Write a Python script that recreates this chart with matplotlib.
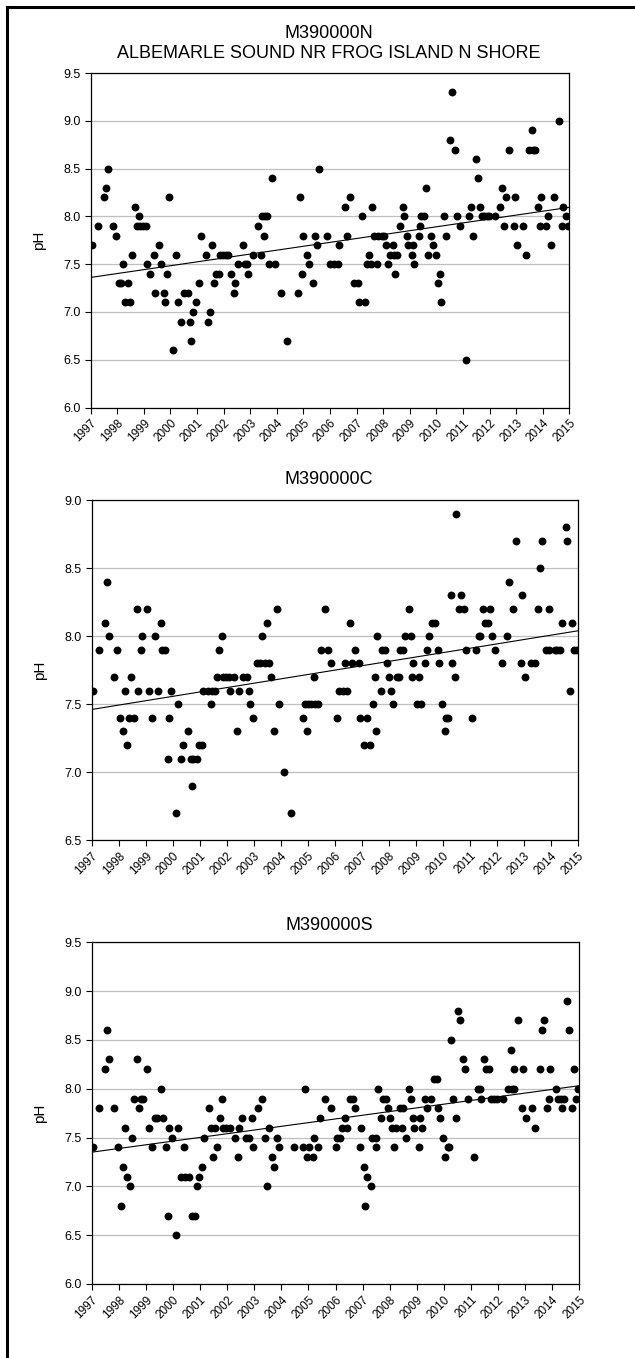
import numpy as np
import matplotlib
matplotlib.use("Agg")
import matplotlib.pyplot as plt
from matplotlib.lines import Line2D

plt.rcParams['font.family'] = ['Liberation Sans', 'DejaVu Sans']

# ---- M390000N (decimal year, pH) ----
n_year = [1997.04, 1997.29, 1997.49, 1997.58, 1997.64, 1997.83, 1997.96, 1998.08, 1998.15, 1998.23,
          1998.30, 1998.39, 1998.48, 1998.56, 1998.66, 1998.73, 1998.81, 1998.84, 1998.95, 1999.07,
          1999.12, 1999.24, 1999.37, 1999.40, 1999.57, 1999.64, 1999.74, 1999.80, 1999.88, 1999.94,
          2000.10, 2000.20, 2000.30, 2000.39, 2000.52, 2000.67, 2000.72, 2000.78, 2000.85, 2000.97,
          2001.07, 2001.14, 2001.32, 2001.41, 2001.48, 2001.57, 2001.63, 2001.71, 2001.81, 2001.86,
          2001.98, 2002.08, 2002.17, 2002.27, 2002.38, 2002.44, 2002.54, 2002.71, 2002.79, 2002.89,
          2002.93, 2003.11, 2003.30, 2003.40, 2003.45, 2003.52, 2003.55, 2003.63, 2003.71, 2003.83,
          2003.93, 2004.15, 2004.37, 2004.81, 2004.88, 2004.95, 2005.00, 2005.14, 2005.21, 2005.36,
          2005.45, 2005.52, 2005.57, 2005.87, 2006.00, 2006.13, 2006.31, 2006.35, 2006.56, 2006.63,
          2006.74, 2006.91, 2007.04, 2007.09, 2007.19, 2007.32, 2007.38, 2007.47, 2007.53, 2007.57,
          2007.67, 2007.75, 2007.82, 2007.94, 2008.04, 2008.09, 2008.17, 2008.26, 2008.37, 2008.41,
          2008.44, 2008.52, 2008.63, 2008.76, 2008.79, 2008.91, 2008.92, 2009.07, 2009.12, 2009.17,
          2009.33, 2009.38, 2009.42, 2009.52, 2009.62, 2009.70, 2009.80, 2009.86, 2009.98, 2010.05,
          2010.15, 2010.17, 2010.29, 2010.35, 2010.51, 2010.59, 2010.70, 2010.76, 2010.87, 2011.10,
          2011.23, 2011.30, 2011.38, 2011.49, 2011.56, 2011.63, 2011.70, 2011.80, 2011.89, 2011.98,
          2012.20, 2012.39, 2012.48, 2012.54, 2012.60, 2012.73, 2012.90, 2012.94, 2013.02, 2013.27,
          2013.37, 2013.49, 2013.61, 2013.64, 2013.72, 2013.81, 2013.89, 2013.93, 2014.12, 2014.21,
          2014.32, 2014.41, 2014.62, 2014.71, 2014.77, 2014.87, 2014.96]
n_ph = [7.7, 7.9, 8.2, 8.3, 8.5, 7.9, 7.8, 7.3, 7.3, 7.5,
        7.1, 7.3, 7.1, 7.6, 8.1, 7.9, 8.0, 7.9, 7.9, 7.9,
        7.5, 7.4, 7.6, 7.2, 7.7, 7.5, 7.2, 7.1, 7.4, 8.2,
        6.6, 7.6, 7.1, 6.9, 7.2, 7.2, 6.9, 6.7, 7.0, 7.1,
        7.3, 7.8, 7.6, 6.9, 7.0, 7.7, 7.3, 7.4, 7.4, 7.6,
        7.6, 7.6, 7.6, 7.4, 7.2, 7.3, 7.5, 7.7, 7.5, 7.5,
        7.4, 7.6, 7.9, 7.6, 8.0, 7.8, 8.0, 8.0, 7.5, 8.4,
        7.5, 7.2, 6.7, 7.2, 8.2, 7.4, 7.8, 7.6, 7.5, 7.3,
        7.8, 7.7, 8.5, 7.8, 7.5, 7.5, 7.5, 7.7, 8.1, 7.8,
        8.2, 7.3, 7.3, 7.1, 8.0, 7.1, 7.5, 7.6, 7.5, 8.1,
        7.8, 7.5, 7.8, 7.8, 7.8, 7.7, 7.5, 7.6, 7.7, 7.6,
        7.4, 7.6, 7.9, 8.1, 8.0, 7.8, 7.7, 7.6, 7.7, 7.5,
        7.8, 7.9, 8.0, 8.0, 8.3, 7.6, 7.8, 7.7, 7.6, 7.3,
        7.4, 7.1, 8.0, 7.8, 8.8, 9.3, 8.7, 8.0, 7.9, 6.5,
        8.0, 8.1, 7.8, 8.6, 8.4, 8.1, 8.0, 8.0, 8.0, 8.0,
        8.0, 8.1, 8.3, 7.9, 8.2, 8.7, 7.9, 8.2, 7.7, 7.9,
        7.6, 8.7, 8.9, 8.7, 8.7, 8.1, 7.9, 8.2, 7.9, 8.0,
        7.7, 8.2, 9.0, 7.9, 8.1, 8.0, 7.9]

# ---- M390000C ----
c_year = [1997.04, 1997.28, 1997.49, 1997.56, 1997.64, 1997.82, 1997.95, 1998.06, 1998.15, 1998.22,
          1998.31, 1998.40, 1998.47, 1998.57, 1998.66, 1998.73, 1998.82, 1998.88, 1999.04, 1999.11,
          1999.24, 1999.36, 1999.44, 1999.57, 1999.61, 1999.73, 1999.82, 1999.88, 1999.95, 2000.13,
          2000.20, 2000.31, 2000.40, 2000.55, 2000.66, 2000.73, 2000.77, 2000.89, 2000.98, 2001.08,
          2001.14, 2001.29, 2001.40, 2001.46, 2001.57, 2001.64, 2001.73, 2001.81, 2001.86, 2001.97,
          2002.09, 2002.14, 2002.27, 2002.39, 2002.44, 2002.60, 2002.74, 2002.81, 2002.88, 2002.97,
          2003.12, 2003.24, 2003.32, 2003.43, 2003.48, 2003.56, 2003.64, 2003.74, 2003.85, 2003.95,
          2004.14, 2004.38, 2004.82, 2004.89, 2004.96, 2005.00, 2005.11, 2005.22, 2005.27, 2005.37,
          2005.49, 2005.65, 2005.75, 2005.88, 2006.09, 2006.15, 2006.30, 2006.37, 2006.46, 2006.57,
          2006.64, 2006.74, 2006.89, 2006.95, 2007.07, 2007.20, 2007.32, 2007.41, 2007.48, 2007.53,
          2007.58, 2007.70, 2007.75, 2007.85, 2007.94, 2008.02, 2008.10, 2008.17, 2008.32, 2008.39,
          2008.43, 2008.52, 2008.61, 2008.75, 2008.81, 2008.90, 2008.88, 2009.06, 2009.13, 2009.18,
          2009.33, 2009.42, 2009.51, 2009.60, 2009.72, 2009.81, 2009.87, 2009.97, 2010.07, 2010.12,
          2010.19, 2010.29, 2010.34, 2010.44, 2010.51, 2010.59, 2010.69, 2010.77, 2010.87, 2011.10,
          2011.24, 2011.33, 2011.39, 2011.49, 2011.57, 2011.66, 2011.75, 2011.84, 2011.93, 2012.20,
          2012.39, 2012.46, 2012.60, 2012.73, 2012.91, 2012.93, 2013.03, 2013.26, 2013.41, 2013.53,
          2013.62, 2013.69, 2013.82, 2013.92, 2013.93, 2014.14, 2014.24, 2014.34, 2014.41, 2014.56,
          2014.62, 2014.73, 2014.79, 2014.87, 2014.98]
c_ph = [7.6, 7.9, 8.1, 8.4, 8.0, 7.7, 7.9, 7.4, 7.3, 7.6,
        7.2, 7.4, 7.7, 7.4, 8.2, 7.6, 7.9, 8.0, 8.2, 7.6,
        7.4, 8.0, 7.6, 8.1, 7.9, 7.9, 7.1, 7.4, 7.6, 6.7,
        7.5, 7.1, 7.2, 7.3, 7.1, 6.9, 7.1, 7.1, 7.2, 7.2,
        7.6, 7.6, 7.5, 7.6, 7.6, 7.7, 7.9, 8.0, 7.7, 7.7,
        7.7, 7.6, 7.7, 7.3, 7.6, 7.7, 7.7, 7.6, 7.5, 7.4,
        7.8, 7.8, 8.0, 7.8, 8.1, 7.8, 7.7, 7.3, 8.2, 7.5,
        7.0, 6.7, 7.4, 7.5, 7.3, 7.5, 7.5, 7.7, 7.5, 7.5,
        7.9, 8.2, 7.9, 7.8, 7.4, 7.6, 7.6, 7.8, 7.6, 8.1,
        7.8, 7.9, 7.8, 7.4, 7.2, 7.4, 7.2, 7.5, 7.7, 7.3,
        8.0, 7.6, 7.9, 7.9, 7.8, 7.7, 7.6, 7.5, 7.7, 7.7,
        7.9, 7.9, 8.0, 8.2, 8.0, 7.8, 7.7, 7.5, 7.7, 7.5,
        7.8, 7.9, 8.0, 8.1, 8.1, 7.9, 7.8, 7.5, 7.3, 7.4,
        7.4, 8.3, 7.8, 7.7, 8.9, 8.2, 8.3, 8.2, 7.9, 7.4,
        7.9, 8.0, 8.0, 8.2, 8.1, 8.1, 8.2, 8.0, 7.9, 7.8,
        8.0, 8.4, 8.2, 8.7, 7.8, 8.3, 7.7, 7.8, 7.8, 8.2,
        8.5, 8.7, 7.9, 8.2, 7.9, 7.9, 7.9, 7.9, 8.1, 8.8,
        8.7, 7.6, 8.1, 7.9, 7.9]

# ---- M390000S ----
s_year = [1997.04, 1997.28, 1997.49, 1997.57, 1997.65, 1997.82, 1997.96, 1998.08, 1998.16, 1998.23,
          1998.32, 1998.40, 1998.48, 1998.55, 1998.66, 1998.74, 1998.82, 1998.91, 1999.04, 1999.13,
          1999.24, 1999.35, 1999.42, 1999.57, 1999.65, 1999.73, 1999.82, 1999.87, 1999.95, 2000.13,
          2000.20, 2000.30, 2000.40, 2000.46, 2000.61, 2000.70, 2000.80, 2000.88, 2000.96, 2001.06,
          2001.15, 2001.33, 2001.39, 2001.49, 2001.57, 2001.64, 2001.73, 2001.81, 2001.85, 2001.97,
          2002.11, 2002.29, 2002.39, 2002.45, 2002.56, 2002.69, 2002.82, 2002.90, 2002.97, 2003.13,
          2003.30, 2003.39, 2003.47, 2003.54, 2003.65, 2003.73, 2003.83, 2003.93, 2004.47, 2004.80,
          2004.88, 2004.94, 2005.04, 2005.16, 2005.21, 2005.36, 2005.43, 2005.63, 2005.85, 2006.00,
          2006.05, 2006.17, 2006.25, 2006.34, 2006.43, 2006.53, 2006.65, 2006.73, 2006.90, 2006.95,
          2007.06, 2007.10, 2007.17, 2007.31, 2007.35, 2007.48, 2007.51, 2007.58, 2007.67, 2007.74,
          2007.85, 2007.92, 2008.01, 2008.07, 2008.16, 2008.25, 2008.38, 2008.44, 2008.50, 2008.62,
          2008.73, 2008.78, 2008.87, 2008.89, 2009.07, 2009.13, 2009.18, 2009.30, 2009.39, 2009.52,
          2009.63, 2009.73, 2009.79, 2009.87, 2009.95, 2010.05, 2010.14, 2010.19, 2010.27, 2010.33,
          2010.43, 2010.51, 2010.58, 2010.69, 2010.77, 2010.88, 2011.10, 2011.25, 2011.33, 2011.36,
          2011.48, 2011.55, 2011.67, 2011.73, 2011.85, 2011.95, 2012.19, 2012.35, 2012.47, 2012.50,
          2012.59, 2012.60, 2012.72, 2012.91, 2012.90, 2013.02, 2013.27, 2013.36, 2013.54, 2013.61,
          2013.68, 2013.82, 2013.88, 2013.92, 2014.13, 2014.21, 2014.31, 2014.36, 2014.45, 2014.55,
          2014.61, 2014.72, 2014.79, 2014.89, 2014.97]
s_ph = [7.4, 7.8, 8.2, 8.6, 8.3, 7.8, 7.4, 6.8, 7.2, 7.6,
        7.1, 7.0, 7.5, 7.9, 8.3, 7.8, 7.9, 7.9, 8.2, 7.6,
        7.4, 7.7, 7.7, 8.0, 7.7, 7.4, 6.7, 7.6, 7.5, 6.5,
        7.6, 7.1, 7.4, 7.1, 7.1, 6.7, 6.7, 7.0, 7.1, 7.2,
        7.5, 7.8, 7.6, 7.3, 7.6, 7.4, 7.7, 7.9, 7.6, 7.6,
        7.6, 7.5, 7.3, 7.6, 7.7, 7.5, 7.5, 7.7, 7.4, 7.8,
        7.9, 7.5, 7.0, 7.6, 7.3, 7.2, 7.5, 7.4, 7.4, 7.4,
        8.0, 7.3, 7.4, 7.3, 7.5, 7.4, 7.7, 7.9, 7.8, 7.4,
        7.5, 7.5, 7.6, 7.7, 7.6, 7.9, 7.9, 7.8, 7.4, 7.6,
        7.2, 6.8, 7.1, 7.0, 7.5, 7.5, 7.4, 8.0, 7.7, 7.9,
        7.9, 7.8, 7.7, 7.6, 7.4, 7.6, 7.8, 7.6, 7.8, 7.5,
        8.0, 7.9, 7.7, 7.6, 7.4, 7.7, 7.6, 7.9, 7.8, 7.9,
        8.1, 8.1, 7.8, 7.7, 7.5, 7.3, 7.4, 7.4, 8.5, 7.9,
        7.7, 8.8, 8.7, 8.3, 8.2, 7.9, 7.3, 8.0, 8.0, 7.9,
        8.3, 8.2, 8.2, 7.9, 7.9, 7.9, 7.9, 8.0, 8.4, 8.0,
        8.0, 8.2, 8.7, 8.2, 7.8, 7.7, 7.8, 7.6, 8.2, 8.6,
        8.7, 7.8, 7.9, 8.2, 8.0, 7.9, 7.9, 7.8, 7.9, 8.9,
        8.6, 7.8, 8.2, 7.9, 8.0]

years = list(range(1997, 2016))

# title, x, y, ylim, axes rect, title line centres (px from top)
panels = [
    (["M390000N", "ALBEMARLE SOUND NR FROG ISLAND N SHORE"], n_year, n_ph, (6.0, 9.5),
     [0.1428, 0.6999, 0.7540, 0.2463], [34, 53]),
    (["M390000C"], c_year, c_ph, (6.5, 9.0),
     [0.1444, 0.3814, 0.7654, 0.2502], [479]),
    (["M390000S"], s_year, s_ph, (6.0, 9.5),
     [0.1444, 0.0545, 0.7679, 0.2516], [925]),
]

W, H = 635, 1358
fig = plt.figure(figsize=(W / 100, H / 100), dpi=100)

for titles, xs, ys, ylim, pos, ty in panels:
    ax = fig.add_axes(pos)
    ax.set_xlim(1997, 2015)
    ax.set_ylim(*ylim)
    ax.set_yticks(np.arange(ylim[0], ylim[1] + 0.01, 0.5))
    ax.yaxis.set_major_formatter(matplotlib.ticker.FormatStrFormatter('%.1f'))
    ax.set_xticks(years)
    ax.set_xticklabels([str(y) for y in years], rotation=45, ha='right',
                       rotation_mode='anchor', fontsize=8.5)
    ax.tick_params(axis='y', labelsize=9, length=4, width=0.8, direction='out')
    ax.tick_params(axis='x', length=4, width=0.8, direction='out', pad=3)
    ax.grid(axis='y', color='#bfbfbf', linewidth=0.9)
    ax.set_axisbelow(True)
    for sp in ax.spines.values():
        sp.set_color('black')
        sp.set_linewidth(0.9)
    ax.set_ylabel('pH', fontsize=11, labelpad=12)

    ax.scatter(xs, ys, s=32, color='black', zorder=3, linewidths=0)

    # linear trend
    k, b = np.polyfit(xs, ys, 1)
    ax.plot([1997, 2015], [k * 1997 + b, k * 2015 + b], color='black', linewidth=0.8, zorder=2)

    for t, yp in zip(titles, ty):
        fig.text(329 / W, 1 - yp / H, t, fontsize=13, ha='center', va='center')

# page border fragments (left and top)
fig.add_artist(Line2D([7 / W, 7 / W], [0, 1 - 7 / H], color='black', linewidth=2.2,
                      transform=fig.transFigure))
fig.add_artist(Line2D([7 / W, 1], [1 - 7 / H, 1 - 7 / H], color='black', linewidth=2.2,
                      transform=fig.transFigure))

fig.savefig('out.png', dpi=100)
